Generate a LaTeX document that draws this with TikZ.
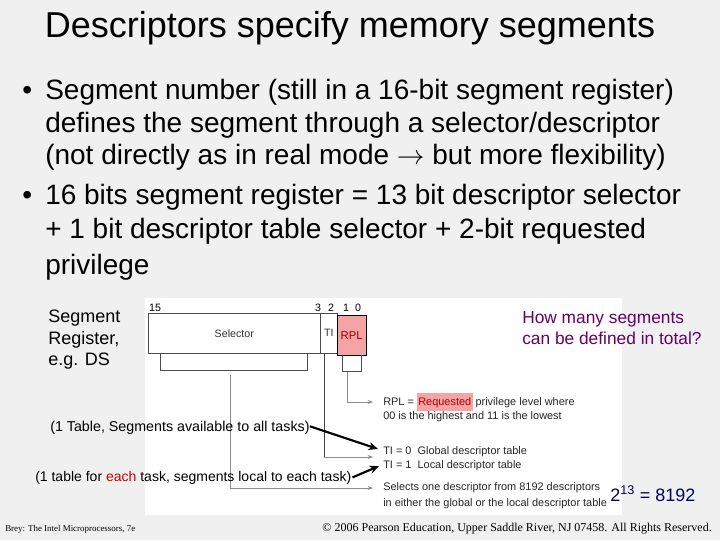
\documentclass[tikz,border=0pt]{standalone}
\usepackage{fontspec}
\setmainfont{Liberation Sans}
\newfontfamily\seriffont{Liberation Serif}
\usetikzlibrary{arrows.meta}
\definecolor{bgc}{HTML}{F0F0F0}
\definecolor{rplc}{HTML}{F4A4A4}
\definecolor{purp}{HTML}{660066}
\definecolor{dblue}{HTML}{000066}
\begin{document}
\begin{tikzpicture}[x=0.75pt,y=-0.75pt,
  tx/.style={anchor=base west,inner sep=0pt,font=\fontsize{21}{24}\selectfont},
  sm/.style={anchor=base west,inner sep=0pt,font=\fontsize{8.2}{9}\selectfont,text=black!85},
  lbl/.style={anchor=base west,inner sep=0pt,font=\fontsize{13.5}{15}\selectfont},
  gl/.style={draw=black!45,-{Stealth[length=4pt]}},
  bl/.style={draw=black,line width=1.6pt,-{Stealth[length=7pt,width=6pt]}}]
\fill[bgc] (0,0) rectangle (720,540);
\useasboundingbox (0,0) rectangle (720,540);
\fill[white] (145,298) rectangle (622,515);
\node[anchor=base,inner sep=0pt,font=\fontsize{27}{30}\selectfont] (title) at (350,37) {Descriptors specify memory segments};
\node[tx] (b1) at (22,99) {•};
\node[tx] (l1) at (45,99) {Segment number (still in a 16-bit segment register)};
\node[tx] (l2) at (45,132) {defines the segment through a selector/descriptor};
\node[tx] (l3) at (45,164) {(not directly as in real mode $\rightarrow$ but more flexibility)};
\node[tx] (b2) at (22,204) {•};
\node[tx] (l4) at (45,204) {16 bits segment register = 13 bit descriptor selector};
\node[tx] (l5) at (45,238) {+ 1 bit descriptor table selector + 2-bit requested};
\node[tx] (l6) at (45,274) {privilege};
% register
\node[draw=black!70,minimum width=172*0.75pt,minimum height=40*0.75pt,inner sep=0pt,anchor=north west,font=\fontsize{8}{9}\selectfont,text=black!80] (sel) at (148,313) {Selector};
\node[draw=black!70,minimum width=17*0.75pt,minimum height=40*0.75pt,inner sep=0pt,anchor=north west,font=\fontsize{8}{9}\selectfont,text=black!80] (ti) at (320,313) {TI};
\node[draw=black,fill=rplc,minimum width=29*0.75pt,minimum height=40*0.75pt,inner sep=0pt,anchor=north west,font=\fontsize{8.5}{9}\selectfont,text=red!60!black] (rpl) at (337,315) {RPL};
\foreach \t/\x in {15/155,3/318,2/331,1/346,0/358}
  \node[anchor=base,inner sep=0pt,font=\fontsize{8}{9}\selectfont] (bit\t) at (\x,311) {\t};
\draw[black!70] (160,353) |- (307,370) -- (307,353);
\draw[black!70] (342,355) |- (361,371) -- (361,355);
% texts on right
\node[sm] (r1) at (383,405) {RPL = \colorbox{rplc}{\hspace{-2pt}\textcolor{red!70!black}{Requested}\hspace{-2pt}} privilege level where};
\node[sm] (r2) at (383,419) {00 is the highest and 11 is the lowest};
\node[sm] (t0) at (383,454) {TI = 0\ \ Global descriptor table};
\node[sm] (t1) at (383,468) {TI = 1\ \ Local descriptor table};
\node[sm] (s1) at (383,490) {Selects one descriptor from 8192 descriptors};
\node[sm] (s2) at (383,506) {in either the global or the local descriptor table};
\coordinate (ra) at (373,402);
\coordinate (ta) at (373,457);
\coordinate (sa) at (373,488);
\draw[gl] (347,372) |- (ra);
\draw[black!75] (324,353) -- (324,457);
\draw[gl] (324,457) -- (ta);
\draw[gl] (230,375) |- (sa);
% left labels
\node[lbl] (seg1) at (48,322) {Segment};
\node[lbl] (seg2) at (48,344) {Register,};
\node[lbl] (seg3) at (48,365) {e.g. DS};
\node[anchor=base west,inner sep=0pt,font=\fontsize{10.7}{12}\selectfont] (g) at (50,431) {(1 Table, Segments available to all tasks)};
\node[anchor=base west,inner sep=0pt,font=\fontsize{10.5}{12}\selectfont] (lt) at (35,481) {(1 table for \textcolor{red!80!black}{each} task, segments local to each task)};
\coordinate (ga) at (378,449);
\coordinate (la) at (379,466);
\draw[bl] (g.east) ++(0,-1) -- (ga);
\draw[bl] (lt.east) ++(1,0) -- (la);
\node[anchor=base west,inner sep=0pt,font=\fontsize{13}{14}\selectfont,text=purp] (q1) at (522,323) {How many segments};
\node[anchor=base west,inner sep=0pt,font=\fontsize{13}{14}\selectfont,text=purp] (q2) at (522,344) {can be defined in total?};
\node[anchor=base west,inner sep=0pt,font=\fontsize{13.5}{15}\selectfont,text=dblue] (ans) at (610,501) {2\textsuperscript{13} = 8192};
\node[anchor=base west,inner sep=0pt,font=\seriffont\fontsize{6.7}{8}\selectfont] (f1) at (5,531) {Brey: The Intel Microprocessors, 7e};
\node[anchor=base east,inner sep=0pt,font=\seriffont\fontsize{9}{10}\selectfont] (f2) at (712,531) {© 2006 Pearson Education, Upper Saddle River, NJ 07458. All Rights Reserved.};
\end{tikzpicture}
\end{document}
